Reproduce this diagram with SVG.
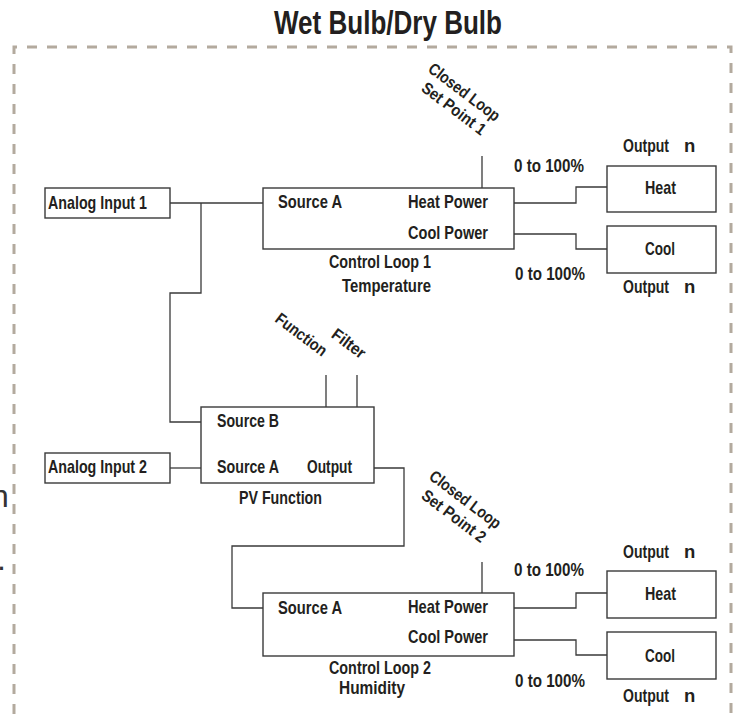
<svg xmlns="http://www.w3.org/2000/svg" width="742" height="714" viewBox="0 0 742 714">
<style>
.t{font-family:"Liberation Sans",Arial,sans-serif;font-weight:bold;font-size:18.5px;fill:#231f20}
.r{font-size:16.5px}
.box{fill:#fff;stroke:#3a3a3a;stroke-width:1.4}
.ln{fill:none;stroke:#3a3a3a;stroke-width:1.3}
.bd{fill:none;stroke:#b3aa9e;stroke-width:3;stroke-dasharray:10 10}
.m{text-anchor:middle}
</style>
<rect width="742" height="714" fill="#fff"/>
<text class="t m" x="388" y="34" style="font-size:33px" textLength="228" lengthAdjust="spacingAndGlyphs">Wet Bulb/Dry Bulb</text>
<path class="bd" d="M14,714 V47 H731 V714"/>
<text x="-9" y="507" style="font-family:'Liberation Sans',Arial,sans-serif;font-size:32px;fill:#333">n</text>
<text x="-3" y="570" style="font-family:'Liberation Sans',Arial,sans-serif;font-size:32px;fill:#333">.</text>
<g id="connectors">
<path class="ln" d="M170,203 H263"/>
<path class="ln" d="M201,203 V293 H170 V422 H201"/>
<path class="ln" d="M170,468 H201"/>
<path class="ln" d="M374,468 H404 V546 H232 V608 H263"/>
<path class="ln" d="M482,156 V188"/>
<path class="ln" d="M514,203 H576 V187 H607"/>
<path class="ln" d="M514,234 H576 V249 H607"/>
<path class="ln" d="M326,375 V407"/>
<path class="ln" d="M357,375 V407"/>
<path class="ln" d="M482,562 V593"/>
<path class="ln" d="M514,608 H576 V593 H607"/>
<path class="ln" d="M514,640 H576 V655 H607"/>
</g>
<g id="analog-input-1">
<rect class="box" x="45" y="188" width="125" height="30"/>
<text class="t" x="48" y="209" textLength="99" lengthAdjust="spacingAndGlyphs">Analog Input 1</text>
</g>
<g id="control-loop-1">
<rect class="box" x="263" y="188" width="251" height="61"/>
<text class="t" x="278" y="208" textLength="64" lengthAdjust="spacingAndGlyphs">Source A</text>
<text class="t" x="408" y="208" textLength="80" lengthAdjust="spacingAndGlyphs">Heat Power</text>
<text class="t" x="408" y="239" textLength="80" lengthAdjust="spacingAndGlyphs">Cool Power</text>
<text class="t" x="329" y="268" textLength="102" lengthAdjust="spacingAndGlyphs">Control Loop 1</text>
<text class="t" x="342" y="292" textLength="89" lengthAdjust="spacingAndGlyphs">Temperature</text>
</g>
<g id="set-point-1">
<text class="t r m" transform="translate(461,96.5) rotate(37)" textLength="85" lengthAdjust="spacingAndGlyphs">Closed Loop</text>
<text class="t r m" transform="translate(450.5,113) rotate(37)" textLength="76" lengthAdjust="spacingAndGlyphs">Set Point 1</text>
</g>
<g id="heat-1">
<rect class="box" x="607" y="166" width="109" height="46"/>
<text class="t" x="645" y="194" textLength="31" lengthAdjust="spacingAndGlyphs">Heat</text>
<text class="t" x="623" y="152" textLength="46" lengthAdjust="spacingAndGlyphs">Output</text>
<text class="t" x="684" y="152">n</text>
<text class="t" x="514" y="172" textLength="70" lengthAdjust="spacingAndGlyphs">0 to 100%</text>
</g>
<g id="cool-1">
<rect class="box" x="607" y="226" width="109" height="47"/>
<text class="t" x="645" y="255" textLength="30" lengthAdjust="spacingAndGlyphs">Cool</text>
<text class="t" x="515" y="280" textLength="70" lengthAdjust="spacingAndGlyphs">0 to 100%</text>
<text class="t" x="623" y="293" textLength="46" lengthAdjust="spacingAndGlyphs">Output</text>
<text class="t" x="684" y="293">n</text>
</g>
<g id="pv-function">
<rect class="box" x="201" y="407" width="173" height="76"/>
<text class="t" x="217" y="427" textLength="62" lengthAdjust="spacingAndGlyphs">Source B</text>
<text class="t" x="217" y="473" textLength="62" lengthAdjust="spacingAndGlyphs">Source A</text>
<text class="t" x="307" y="473" textLength="45" lengthAdjust="spacingAndGlyphs">Output</text>
<text class="t" x="239" y="504" textLength="83" lengthAdjust="spacingAndGlyphs">PV Function</text>
<text class="t r m" transform="translate(298,339) rotate(37)" textLength="60" lengthAdjust="spacingAndGlyphs">Function</text>
<text class="t r m" transform="translate(345.5,348) rotate(37)" textLength="38" lengthAdjust="spacingAndGlyphs">Filter</text>
</g>
<g id="analog-input-2">
<rect class="box" x="45" y="453" width="125" height="30"/>
<text class="t" x="48" y="473" textLength="99" lengthAdjust="spacingAndGlyphs">Analog Input 2</text>
</g>
<g id="control-loop-2">
<rect class="box" x="263" y="593" width="251" height="63"/>
<text class="t" x="278" y="614" textLength="64" lengthAdjust="spacingAndGlyphs">Source A</text>
<text class="t" x="408" y="613" textLength="80" lengthAdjust="spacingAndGlyphs">Heat Power</text>
<text class="t" x="408" y="643" textLength="80" lengthAdjust="spacingAndGlyphs">Cool Power</text>
<text class="t" x="329" y="674" textLength="102" lengthAdjust="spacingAndGlyphs">Control Loop 2</text>
<text class="t" x="339" y="694" textLength="66" lengthAdjust="spacingAndGlyphs">Humidity</text>
</g>
<g id="set-point-2">
<text class="t r m" transform="translate(462,504) rotate(37)" textLength="85" lengthAdjust="spacingAndGlyphs">Closed Loop</text>
<text class="t r m" transform="translate(450.5,520.5) rotate(37)" textLength="76" lengthAdjust="spacingAndGlyphs">Set Point 2</text>
</g>
<g id="heat-2">
<rect class="box" x="607" y="571" width="109" height="47"/>
<text class="t" x="645" y="600" textLength="31" lengthAdjust="spacingAndGlyphs">Heat</text>
<text class="t" x="623" y="558" textLength="46" lengthAdjust="spacingAndGlyphs">Output</text>
<text class="t" x="684" y="558">n</text>
<text class="t" x="514" y="576" textLength="70" lengthAdjust="spacingAndGlyphs">0 to 100%</text>
</g>
<g id="cool-2">
<rect class="box" x="607" y="632" width="109" height="47"/>
<text class="t" x="645" y="662" textLength="30" lengthAdjust="spacingAndGlyphs">Cool</text>
<text class="t" x="515" y="687" textLength="70" lengthAdjust="spacingAndGlyphs">0 to 100%</text>
<text class="t" x="623" y="702" textLength="46" lengthAdjust="spacingAndGlyphs">Output</text>
<text class="t" x="684" y="702">n</text>
</g>
</svg>
